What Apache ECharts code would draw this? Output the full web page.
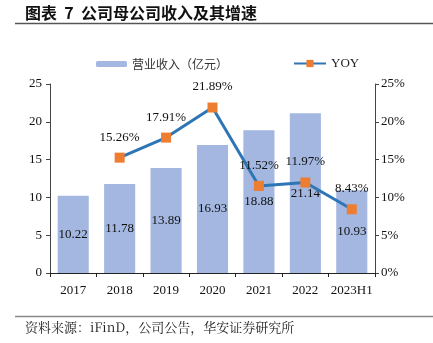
<!DOCTYPE html>
<html><head><meta charset="utf-8">
<script src="https://cdn.jsdelivr.net/npm/echarts@6/dist/echarts.min.js"></script>
<style>html,body{margin:0;padding:0;background:#fff;}#c{width:433px;height:343px;}</style>
</head><body><div id="c"></div>
<script>
const categories = ['2017','2018','2019','2020','2021','2022','2023H1'];
const revenue = [10.22, 11.78, 13.89, 16.93, 18.88, 21.14, 10.93];
const yoy = [null, 15.26, 17.91, 21.89, 11.52, 11.97, 8.43];
const leftTicks = {min: 0, max: 25, interval: 5};
const rightTicks = {min: 0, max: 25, interval: 5};

const serif = '"Liberation Serif", "Noto Serif CJK SC", "Noto Sans CJK SC", serif';
const chart = echarts.init(document.getElementById('c'));
chart.setOption({
  animation: false,
  backgroundColor: '#fff',
  graphic: [
    {type: 'text', left: 25, top: 5, style: {text: '图表  7  公司母公司收入及其增速', font: 'bold 16px "Noto Sans CJK SC"', fill: '#111'}},
    {type: 'line', shape: {x1: 15, y1: 23.5, x2: 433, y2: 23.5}, style: {stroke: '#555', lineWidth: 1.5}},
    {type: 'line', shape: {x1: 15, y1: 316.5, x2: 433, y2: 316.5}, style: {stroke: '#888', lineWidth: 1.5}},
    {type: 'text', left: 25, top: 321, style: {text: '资料来源：iFinD，公司公告，华安证券研究所', font: '13px "Noto Serif CJK SC", "Noto Sans CJK SC", serif', fill: '#222'}}
  ],
  legend: [
    {data: ['营业收入（亿元）'], left: 91, top: 53, itemWidth: 31, itemHeight: 6, itemGap: 5,
     textStyle: {fontFamily: '"Noto Sans CJK SC"', fontSize: 12, color: '#333'}},
    {data: ['YOY'], left: 288, top: 52, itemWidth: 32, itemHeight: 9, itemGap: 5,
     textStyle: {fontFamily: serif, fontSize: 13, color: '#222'}}
  ],
  grid: {left: 50, right: 58, top: 84, bottom: 70},
  xAxis: {
    type: 'category', data: categories,
    axisLine: {lineStyle: {color: '#222', width: 1}},
    axisTick: {show: true, alignWithLabel: false, length: 4, lineStyle: {color: '#222'}},
    axisLabel: {interval: 0, fontFamily: serif, fontSize: 13, color: '#111', margin: 11}
  },
  yAxis: [
    {type: 'value', min: leftTicks.min, max: leftTicks.max, interval: leftTicks.interval,
     axisLine: {show: true, lineStyle: {color: '#444'}},
     axisTick: {show: true, length: 4, lineStyle: {color: '#444'}},
     splitLine: {show: false},
     axisLabel: {fontFamily: serif, fontSize: 13, color: '#111', margin: 8}},
    {type: 'value', min: rightTicks.min, max: rightTicks.max, interval: rightTicks.interval,
     axisLine: {show: true, lineStyle: {color: '#444'}},
     axisTick: {show: true, length: 4, lineStyle: {color: '#444'}},
     splitLine: {show: false},
     axisLabel: {fontFamily: serif, fontSize: 13, color: '#111', margin: 6, formatter: '{value}%'}}
  ],
  series: [
    {name: '营业收入（亿元）', type: 'bar', data: revenue, barWidth: '67%',
     itemStyle: {color: '#A3B7E0'},
     label: {show: true, position: 'inside', fontFamily: serif, fontSize: 13, color: '#111', formatter: p => p.value.toFixed(2)}},
    {name: 'YOY', type: 'line', yAxisIndex: 1, data: yoy,
     symbol: 'rect', symbolSize: 10,
     lineStyle: {color: '#2E75B6', width: 3},
     itemStyle: {color: '#ED7D31'},
     label: {show: true, position: 'top', distance: 9, fontFamily: serif, fontSize: 13, color: '#111', formatter: p => p.value.toFixed(2) + '%'}}
  ]
});
</script></body></html>
